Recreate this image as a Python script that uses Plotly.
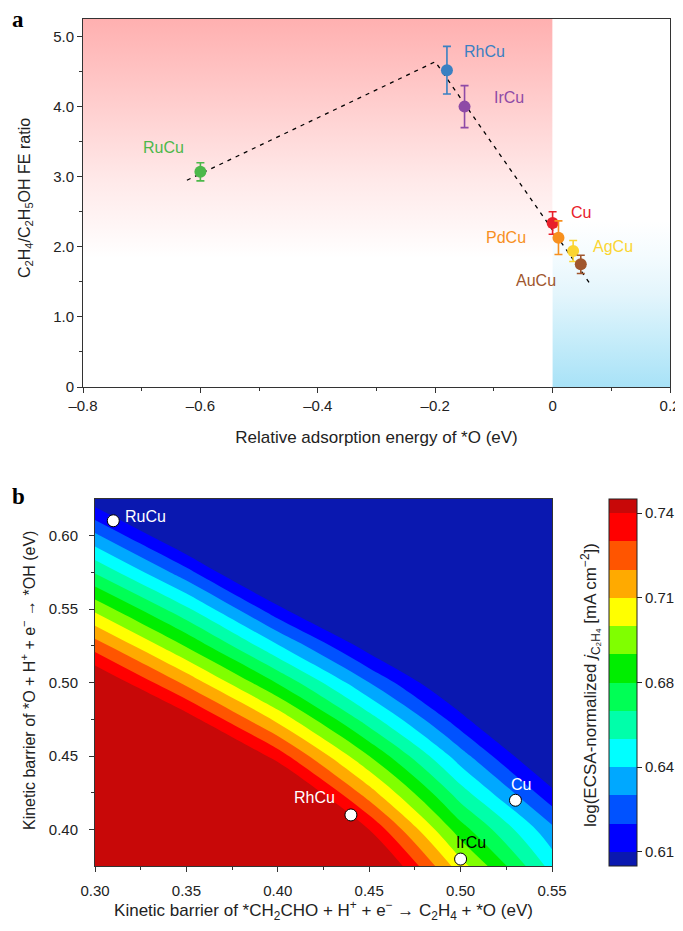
import plotly.graph_objects as go

# ---- panel a data ----
cats = ["RuCu", "RhCu", "IrCu", "Cu", "PdCu", "AgCu", "AuCu"]
rel_energy = [-0.60, -0.18, -0.15, 0.0, 0.01, 0.035, 0.048]
fe_ratio = [3.07, 4.52, 4.00, 2.34, 2.13, 1.94, 1.75]
fe_err = [0.13, 0.34, 0.30, 0.16, 0.24, 0.15, 0.13]
cat_colors = ["#4cb84a", "#3a80c2", "#8e4aa6", "#e8202a", "#f7901e", "#fbd531", "#a0562d"]
# label offsets in px (x, y)
label_shift = [(-37, 24), (38, 19), (44, 9), (28, 10), (-52, 0), (40, 5), (-45, -16)]

trend_x = [-0.623, -0.200, 0.064]
trend_y = [2.95, 4.64, 1.47]

# ---- panel b data ----
bx = [0.30, 0.35, 0.40, 0.45, 0.50, 0.55]
by = [0.375, 0.400, 0.425, 0.450, 0.475, 0.500, 0.525, 0.550, 0.575, 0.600, 0.625]
bz = [
    [0.911, 0.872, 0.831, 0.766, 0.704, 0.651],
    [0.880, 0.841, 0.800, 0.743, 0.682, 0.636],
    [0.849, 0.810, 0.769, 0.715, 0.660, 0.614],
    [0.819, 0.780, 0.738, 0.688, 0.638, 0.592],
    [0.788, 0.749, 0.707, 0.660, 0.615, 0.570],
    [0.757, 0.718, 0.676, 0.633, 0.593, 0.548],
    [0.727, 0.687, 0.645, 0.605, 0.571, 0.526],
    [0.696, 0.657, 0.614, 0.578, 0.549, 0.504],
    [0.665, 0.626, 0.582, 0.550, 0.527, 0.482],
    [0.635, 0.595, 0.551, 0.523, 0.504, 0.460],
    [0.604, 0.564, 0.520, 0.495, 0.482, 0.438],
]
pts_name = ["RuCu", "RhCu", "Cu", "IrCu"]
pts_x = [0.31, 0.44, 0.53, 0.50]
pts_y = [0.61, 0.41, 0.42, 0.38]
pts_label_color = ["white", "white", "white", "black"]
pts_shift = [(32, 4), (-36, 17), (6, 16), (10, 17)]

band_colors = ["#0a18b0", "#0000ff", "#0052ff", "#00a8ff", "#00ffff", "#00ffaa",
               "#00ff55", "#00ee00", "#80ff00", "#ffff00", "#ffaa00", "#ff5500",
               "#ff0000", "#c80808"]
cb_tickvals = [0.611, 0.644, 0.677, 0.710, 0.743]
cb_ticktext = ["0.61", "0.64", "0.68", "0.71", "0.74"]

FONT = "Liberation Sans, Arial, sans-serif"
W, H = 683, 915
PAD = 8  # page body margin


def fx(px):
    return (px - PAD) / W


def fy(py):
    return 1 - (py - PAD) / H


fig = go.Figure()

# background gradients of panel a
fig.add_trace(go.Scatter(
    x=[-0.8, 0, 0, -0.8, -0.8], y=[0, 0, 5.25, 5.25, 0], mode="none",
    fill="toself", hoverinfo="skip", showlegend=False,
    fillgradient=dict(type="vertical", start=0, stop=5.25,
                      colorscale=[[0, "#ffffff"], [0.35, "#ffffff"], [0.57, "#ffe8e8"],
                                  [0.76, "#ffcfcf"], [1, "#ffb0b0"]]),
    xaxis="x", yaxis="y"))
fig.add_trace(go.Scatter(
    x=[0, 0.2, 0.2, 0, 0], y=[0, 0, 5.25, 5.25, 0], mode="none",
    fill="toself", hoverinfo="skip", showlegend=False,
    fillgradient=dict(type="vertical", start=0, stop=5.25,
                      colorscale=[[0, "#a8e2f7"], [0.15, "#cbeefa"], [0.25, "#e3f5fc"],
                                  [0.35, "#f3fbfe"], [0.45, "#ffffff"], [1, "#ffffff"]]),
    xaxis="x", yaxis="y"))

fig.add_trace(go.Scatter(x=trend_x, y=trend_y, mode="lines",
                         line=dict(color="black", width=1.3, dash="4px,5px"),
                         showlegend=False, xaxis="x", yaxis="y"))

annotations = []
for i, name in enumerate(cats):
    fig.add_trace(go.Scatter(
        x=[rel_energy[i]], y=[fe_ratio[i]], mode="markers", showlegend=False,
        error_y=dict(type="data", array=[fe_err[i]], color=cat_colors[i], thickness=1.6, width=4),
        marker=dict(size=12, color=cat_colors[i], line=dict(width=0)),
        xaxis="x", yaxis="y"))
    annotations.append(dict(x=rel_energy[i], y=fe_ratio[i], xref="x", yref="y",
                            text=name, showarrow=False, xshift=label_shift[i][0],
                            yshift=label_shift[i][1], xanchor="center", yanchor="middle",
                            font=dict(family=FONT, size=16, color=cat_colors[i])))

# contour panel b
cs = []
n = len(band_colors)
for i, c in enumerate(band_colors):
    cs.append([i / n, c])
    cs.append([(i + 1) / n, c])
fig.add_trace(go.Contour(
    x=bx, y=by, z=bz, colorscale=cs, xaxis="x2", yaxis="y2",
    contours=dict(start=0.611, end=0.743, size=0.011, coloring="fill"),
    line=dict(width=0), hoverinfo="skip",
    colorbar=dict(x=fx(609), xanchor="left", y=fy(866), yanchor="bottom",
                  len=(866 - 499) / H, lenmode="fraction", thickness=28,
                  thicknessmode="pixels", xpad=0, ypad=0, outlinewidth=1, outlinecolor="#222",
                  tickvals=cb_tickvals, ticktext=cb_ticktext, ticks="outside",
                  ticklen=5, tickcolor="#222",
                  tickfont=dict(family=FONT, size=15, color="#222"))))

fig.add_trace(go.Scatter(x=pts_x, y=pts_y, mode="markers", showlegend=False,
                         marker=dict(size=12, color="white", line=dict(color="black", width=1)),
                         xaxis="x2", yaxis="y2"))
for i, name in enumerate(pts_name):
    annotations.append(dict(x=pts_x[i], y=pts_y[i], xref="x2", yref="y2", text=name,
                            showarrow=False, xshift=pts_shift[i][0], yshift=pts_shift[i][1],
                            xanchor="center", yanchor="middle",
                            font=dict(family=FONT, size=16, color=pts_label_color[i])))

annotations.append(dict(x=fx(18), y=fy(19), xref="paper", yref="paper", text="<b>a</b>",
                        showarrow=False, xanchor="center", yanchor="middle",
                        font=dict(family="Liberation Serif, serif", size=23, color="black")))
annotations.append(dict(x=fx(18), y=fy(496), xref="paper", yref="paper", text="<b>b</b>",
                        showarrow=False, xanchor="center", yanchor="middle",
                        font=dict(family="Liberation Serif, serif", size=23, color="black")))
annotations.append(dict(x=fx(590), y=fy(685), xref="paper", yref="paper", textangle=-90,
                        xanchor="center", yanchor="middle",
                        text="log(ECSA-normalized <i>j</i><sub>C₂H₄</sub> [mA cm<sup>−2</sup>])",
                        showarrow=False, font=dict(family=FONT, size=17, color="#222")))
# y axis titles
annotations.append(dict(x=fx(25), y=fy(198), xref="paper", yref="paper", textangle=-90,
                        xanchor="center", yanchor="middle",
                        text="C<sub>2</sub>H<sub>4</sub>/C<sub>2</sub>H<sub>5</sub>OH FE ratio",
                        showarrow=False, font=dict(family=FONT, size=16, color="#222")))
annotations.append(dict(x=fx(28), y=fy(681), xref="paper", yref="paper", textangle=-90,
                        xanchor="center", yanchor="middle",
                        text="Kinetic barrier of *O + H<sup>+</sup> + e<sup>−</sup> → *OH (eV)",
                        showarrow=False, font=dict(family=FONT, size=16, color="#222")))

axis_common = dict(showgrid=False, zeroline=False, showline=True, linecolor="#333",
                   linewidth=1, mirror=True, ticks="outside", ticklen=5, tickcolor="#333",
                   automargin=False,
                   tickfont=dict(family=FONT, size=15, color="#222"))

fig.update_layout(
    width=W, height=H, margin=dict(l=0, r=0, t=0, b=0),
    paper_bgcolor="white", plot_bgcolor="white", showlegend=False,
    font=dict(family=FONT, color="#222"),
    annotations=annotations,
    xaxis=dict(axis_common, domain=[fx(83), fx(670)], range=[-0.8, 0.2], anchor="y",
               tickvals=[-0.8, -0.6, -0.4, -0.2, 0, 0.2],
               ticktext=["–0.8", "–0.6", "–0.4", "–0.2", "0", "0.2"],
               minor=dict(dtick=0.1, ticks="outside", ticklen=3, tickcolor="#333"),
               title=dict(text="Relative adsorption energy of *O (eV)", standoff=18,
                          font=dict(family=FONT, size=17, color="#222"))),
    yaxis=dict(axis_common, domain=[fy(387), fy(19)], range=[0, 5.25], anchor="x",
               tickvals=[0, 1, 2, 3, 4, 5], ticktext=["0", "1.0", "2.0", "3.0", "4.0", "5.0"],
               minor=dict(dtick=0.5, ticks="outside", ticklen=3, tickcolor="#333")),
    xaxis2=dict(axis_common, domain=[fx(95), fx(552)], range=[0.30, 0.55], anchor="y2",
                tickvals=[0.30, 0.35, 0.40, 0.45, 0.50, 0.55],
                ticktext=["0.30", "0.35", "0.40", "0.45", "0.50", "0.55"],
                ticklabelstandoff=6,
                minor=dict(dtick=0.025, ticks="outside", ticklen=3, tickcolor="#333"),
                title=dict(text="Kinetic barrier of *CH<sub>2</sub>CHO + H<sup>+</sup> + e<sup>−</sup> → C<sub>2</sub>H<sub>4</sub> + *O (eV)",
                           standoff=6, font=dict(family=FONT, size=17, color="#222"))),
    yaxis2=dict(axis_common, domain=[fy(866), fy(499)], range=[0.3753, 0.6248], anchor="x2",
                tickvals=[0.40, 0.45, 0.50, 0.55, 0.60],
                ticktext=["0.40", "0.45", "0.50", "0.55", "0.60"],
                ticklabelstandoff=8,
                minor=dict(dtick=0.025, ticks="outside", ticklen=3, tickcolor="#333")),
)

fig.write_html("out.html")
